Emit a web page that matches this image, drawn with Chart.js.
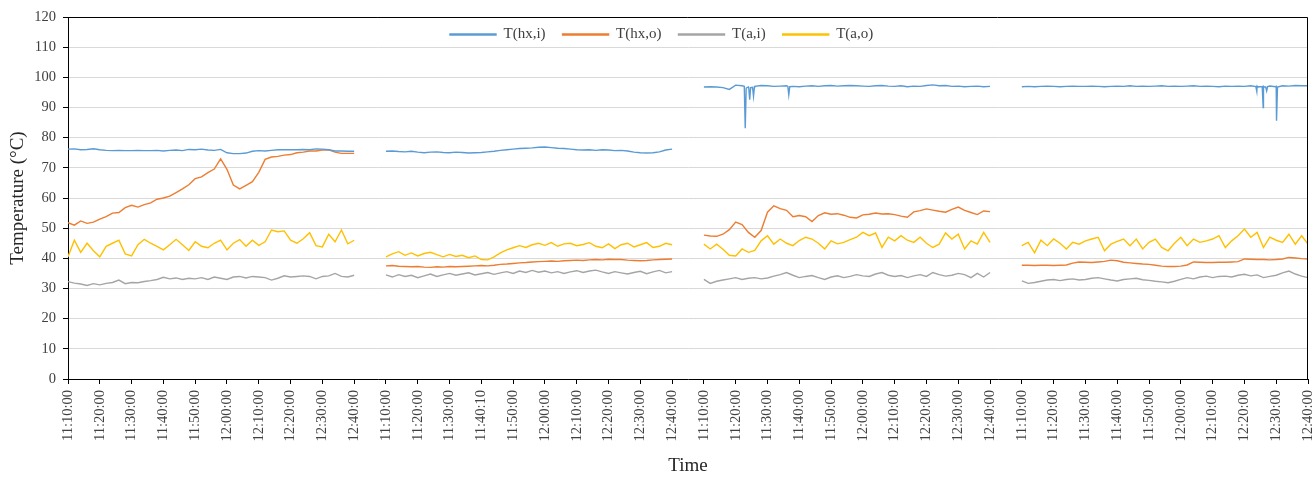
<!DOCTYPE html>
<html>
<head>
<meta charset="utf-8">
<title>Heat exchanger temperatures</title>
<script src="https://cdn.jsdelivr.net/npm/chart.js@4.4.1/dist/chart.umd.min.js"></script>
<style>
  html, body { margin: 0; padding: 0; background: #ffffff; }
  #wrap { width: 1315px; height: 477px; position: relative; }
</style>
</head>
<body>
<div id="wrap"><canvas id="chart"></canvas></div>
<script>
// Time-axis labels: four test runs, one label every 10 minutes
const tickLabels = [
  '11:10:00','11:20:00','11:30:00','11:40:00','11:50:00','12:00:00','12:10:00','12:20:00','12:30:00','12:40:00',
  '11:10:00','11:20:00','11:30:00','11:40:10','11:50:00','12:00:00','12:10:00','12:20:00','12:30:00','12:40:00',
  '11:10:00','11:20:00','11:30:00','11:40:00','11:50:00','12:00:00','12:10:00','12:20:00','12:30:00','12:40:00',
  '11:10:00','11:20:00','11:30:00','11:40:00','11:50:00','12:00:00','12:10:00','12:20:00','12:30:00','12:40:00'
];

// Sample times within a run, minutes after 11:10
const sampleMinutes = [0,2,4,6,8,10,12,14,16,18,20,22,24,26,28,30,32,34,36,38,40,42,44,46,48,50,52,54,56,58,60,62,64,66,68,70,72,74,76,78,80,82,84,86,88,90];
// Axis offset of each run (runs are separated by one 10-minute slot)
const runStart = [0, 100, 200, 300];

// T(hx,i) – heat exchanger inlet, °C
const hxIn1 = [76.2,76.3,76.0,76.1,76.3,76.0,75.8,75.7,75.8,75.7,75.7,75.8,75.7,75.7,75.8,75.6,75.8,75.9,75.7,76.1,76.0,76.2,75.9,75.8,76.1,75.0,74.7,74.7,74.9,75.5,75.7,75.6,75.8,76.0,76.0,76.0,76.0,76.1,76.0,76.3,76.2,76.0,75.6,75.6,75.5,75.5];
const hxIn2 = [75.5,75.6,75.4,75.3,75.5,75.2,75.0,75.2,75.3,75.1,75.0,75.2,75.1,74.9,75.0,75.1,75.3,75.5,75.8,76.0,76.2,76.4,76.5,76.6,76.8,76.9,76.7,76.5,76.4,76.2,76.0,75.9,76.0,75.8,76.0,75.9,75.7,75.8,75.6,75.2,75.0,74.9,75.0,75.3,75.9,76.2];
const hxIn3 = [96.8,96.9,96.8,96.6,96.0,97.4,97.2,96.8,97.0,97.3,97.2,97.0,97.1,97.2,97.0,96.9,97.1,97.2,97.0,97.2,97.3,97.1,97.2,97.3,97.2,97.1,97.0,97.2,97.3,97.1,97.0,97.2,96.9,97.1,97.0,97.3,97.5,97.2,97.3,97.0,97.1,96.9,97.0,97.1,96.9,97.0];
const hxIn4 = [96.9,97.0,96.9,97.0,97.1,97.0,96.9,97.0,97.1,97.0,97.0,97.1,97.0,96.9,97.0,97.1,97.0,97.2,97.0,97.1,97.0,97.1,97.2,97.0,97.1,97.0,97.1,97.2,97.0,97.1,97.0,96.9,97.1,97.0,97.1,97.0,97.2,97.1,97.0,97.1,97.0,97.2,97.1,97.3,97.2,97.2];
// short inlet drops [minute, °C]
const hxInDrops3 = [[12.7,97.0],[13.0,83.1],[13.3,96.4],[14.1,96.6],[14.4,92.6],[14.7,96.6],[15.3,96.7],[15.6,93.7],[15.9,96.8],[26.4,97.0],[26.7,94.2],[27.0,96.9]];
const hxInDrops4 = [[73.6,96.9],[73.9,95.3],[74.2,96.9],[75.6,96.9],[75.9,90.0],[76.2,96.8],[76.7,96.8],[77.0,95.5],[77.3,96.9],[79.8,96.9],[80.1,85.6],[80.4,96.8]];

// T(hx,o) – heat exchanger outlet, °C
const hxOut1 = [51.8,51.0,52.4,51.6,52.0,53.0,53.8,55.0,55.2,56.8,57.6,57.0,57.8,58.4,59.6,60.0,60.6,61.8,63.0,64.4,66.4,67.0,68.4,69.6,73.0,69.5,64.3,63.0,64.2,65.4,68.5,72.8,73.6,73.8,74.2,74.4,75.0,75.2,75.6,75.6,75.9,76.0,75.2,74.8,74.8,74.8];
const hxOut2 = [37.5,37.6,37.4,37.3,37.2,37.3,37.1,37.0,37.2,37.1,37.3,37.2,37.3,37.4,37.5,37.6,37.5,37.7,38.0,38.1,38.3,38.5,38.6,38.8,38.9,39.0,39.1,39.0,39.2,39.3,39.4,39.3,39.5,39.6,39.5,39.7,39.6,39.6,39.4,39.3,39.2,39.3,39.5,39.6,39.7,39.8];
const hxOut3 = [47.7,47.4,47.3,48.0,49.5,52.0,51.2,48.6,47.0,49.2,55.3,57.4,56.5,55.9,53.8,54.2,53.8,52.2,54.2,55.1,54.6,54.8,54.3,53.6,53.4,54.4,54.6,55.0,54.7,54.8,54.5,54.0,53.6,55.4,55.8,56.4,56.0,55.6,55.3,56.2,57.0,55.9,55.2,54.5,55.7,55.5];
const hxOut4 = [37.7,37.7,37.6,37.7,37.7,37.6,37.7,37.8,38.4,38.8,38.7,38.6,38.8,39.0,39.4,39.2,38.7,38.5,38.3,38.1,38.0,37.7,37.4,37.3,37.3,37.4,37.8,38.8,38.7,38.6,38.6,38.7,38.7,38.8,38.9,39.8,39.7,39.6,39.6,39.5,39.6,39.8,40.3,40.1,39.9,39.8];

// T(a,i) – air inlet, °C
const airIn1 = [32.3,31.8,31.5,31.0,31.6,31.2,31.7,32.0,32.8,31.6,32.0,31.9,32.3,32.6,33.0,33.7,33.2,33.5,33.0,33.4,33.2,33.6,33.0,33.8,33.4,33.0,33.8,34.0,33.5,34.0,33.8,33.6,32.8,33.4,34.2,33.8,34.0,34.2,34.0,33.2,34.0,34.2,35.0,34.0,33.8,34.4];
const airIn2 = [34.5,33.8,34.6,34.0,34.4,33.6,34.2,34.8,34.0,34.5,35.0,34.4,34.8,35.2,34.5,34.9,35.3,34.7,35.2,35.6,35.0,35.8,35.3,36.0,35.4,35.8,35.2,35.6,35.0,35.5,35.9,35.3,35.8,36.1,35.5,35.0,35.6,35.2,34.8,35.3,35.7,34.9,35.5,36.0,35.2,35.6];
const airIn3 = [33.0,31.7,32.4,32.8,33.2,33.6,33.0,33.4,33.6,33.2,33.5,34.1,34.6,35.3,34.4,33.6,34.0,34.3,33.6,33.0,33.8,34.2,33.6,34.0,34.6,34.2,34.0,34.8,35.3,34.4,34.0,34.3,33.6,34.2,34.6,34.0,35.3,34.6,34.1,34.4,35.0,34.6,33.6,35.0,33.8,35.3];
const airIn4 = [32.5,31.7,32.0,32.4,32.8,33.0,32.6,33.0,33.2,32.8,33.0,33.4,33.6,33.2,32.8,32.5,33.0,33.2,33.4,32.9,32.7,32.4,32.2,31.9,32.4,33.0,33.6,33.2,33.8,34.1,33.6,34.0,34.1,33.8,34.4,34.7,34.2,34.5,33.6,34.0,34.4,35.2,35.8,34.8,34.1,33.6];

// T(a,o) – air outlet, °C
const airOut1 = [40.5,46.0,42.0,45.0,42.5,40.5,44.0,45.0,46.0,41.5,40.8,44.5,46.3,45.0,44.0,42.8,44.5,46.3,44.5,42.6,45.5,44.0,43.5,45.0,46.0,42.8,45.0,46.2,44.0,46.0,44.3,45.5,49.4,48.8,49.1,46.0,45.0,46.5,48.5,44.2,43.8,48.0,45.5,49.4,44.8,46.0];
const airOut2 = [40.5,41.5,42.2,41.0,41.8,40.8,41.6,42.0,41.2,40.5,41.3,40.6,41.0,40.2,40.8,39.6,39.5,40.5,41.8,42.8,43.5,44.2,43.6,44.5,45.0,44.3,45.2,44.0,44.8,45.0,44.2,44.6,45.2,44.0,43.5,44.8,43.2,44.5,45.0,43.8,44.5,45.2,43.6,44.0,45.0,44.5];
const airOut3 = [44.7,43.1,44.7,43.0,41.0,40.8,43.1,42.0,42.6,45.8,47.5,44.7,46.4,45.0,44.2,45.9,47.0,46.4,45.0,43.1,45.8,44.8,45.3,46.2,47.0,48.6,47.5,48.4,43.6,47.0,45.8,47.5,46.0,45.3,47.0,45.0,43.6,44.7,48.4,46.4,48.0,43.1,45.8,44.7,48.6,45.3];
const airOut4 = [44.2,45.3,41.8,46.0,44.2,46.4,45.0,43.1,45.3,44.7,45.8,46.4,47.0,42.5,44.7,45.6,46.4,44.2,46.4,43.1,45.3,46.4,43.6,42.5,45.0,47.0,44.2,46.4,45.3,45.8,46.4,47.5,43.6,45.8,47.5,49.7,47.0,48.6,43.6,47.0,46.0,45.3,48.0,44.7,47.5,44.7];

const yTicks = [0,10,20,30,40,50,60,70,80,90,100,110,120];

// Join the runs into one series, with a break between runs
function buildSeries(runs, extras) {
  const pts = [];
  runs.forEach((vals, r) => {
    const seg = sampleMinutes.map((m, i) => ({ x: runStart[r] + m, y: vals[i] }));
    (extras[r] || []).forEach(([m, v]) => seg.push({ x: runStart[r] + m, y: v }));
    seg.sort((a, b) => a.x - b.x);
    pts.push(...seg);
    if (r < runs.length - 1) pts.push({ x: runStart[r] + 95, y: null });
  });
  return pts;
}

const serif = 'Liberation Serif, Times New Roman, serif';

// Legend sits inside the plot, just under the top frame line
const legendInPlot = {
  id: 'legendInPlot',
  afterLayout(chart) {
    const lg = chart.legend;
    if (!lg) return;
    lg.left = 433; lg.right = chart.chartArea.right; lg.width = lg.right - lg.left;
    lg.top = 10; lg.height = 45; lg.bottom = lg.top + lg.height;
  }
};

// Black frame line on the top and right of the plot area
const plotFrame = {
  id: 'plotFrame',
  afterDatasetsDraw(chart) {
    const { ctx, chartArea: a } = chart;
    ctx.save();
    ctx.strokeStyle = '#000000';
    ctx.lineWidth = 1;
    ctx.beginPath();
    const t = Math.round(a.top) + 0.5, r = Math.round(a.right) - 0.5;
    ctx.moveTo(a.left, t); ctx.lineTo(r, t); ctx.lineTo(r, a.bottom);
    ctx.stroke();
    ctx.restore();
  }
};

const lineStyle = (label, color, data) => ({
  label, data,
  borderColor: color, backgroundColor: color,
  borderWidth: 1.4, pointRadius: 0, tension: 0, spanGaps: false
});

new Chart(document.getElementById('chart'), {
  type: 'line',
  data: {
    datasets: [
      lineStyle('T(hx,i)', '#5B9BD5', buildSeries([hxIn1, hxIn2, hxIn3, hxIn4], [[], [], hxInDrops3, hxInDrops4])),
      lineStyle('T(hx,o)', '#ED7D31', buildSeries([hxOut1, hxOut2, hxOut3, hxOut4], [])),
      lineStyle('T(a,i)', '#A5A5A5', buildSeries([airIn1, airIn2, airIn3, airIn4], [])),
      lineStyle('T(a,o)', '#FFC000', buildSeries([airOut1, airOut2, airOut3, airOut4], []))
    ]
  },
  options: {
    responsive: true,
    maintainAspectRatio: false,
    animation: false,
    devicePixelRatio: 1,
    layout: { padding: { left: 0, right: 7, top: 16, bottom: 0 } },
    plugins: {
      tooltip: { enabled: false },
      legend: {
        display: true,
        position: 'top',
        align: 'start',
        maxHeight: 1,
        labels: {
          boxWidth: 46, boxHeight: 1, padding: 17,
          color: '#404040',
          font: { family: serif, size: 15 }
        }
      }
    },
    scales: {
      x: {
        type: 'linear',
        min: 0, max: 390,
        border: { display: true, color: '#000000', width: 1 },
        grid: { display: true, drawOnChartArea: false, drawTicks: true, tickLength: 5, color: '#000000', tickColor: '#000000' },
        ticks: {
          stepSize: 10, autoSkip: false, minRotation: 90, maxRotation: 90, padding: 6,
          color: '#404040', font: { family: serif, size: 14.5 },
          callback: (v) => tickLabels[Math.round(v / 10)]
        },
        title: { display: true, text: 'Time', color: '#262626', font: { family: serif, size: 19 }, padding: { top: 0, bottom: 0 } },
        afterFit(scale) { scale.height = 98; scale.paddingLeft = 0; scale.paddingRight = 0; }
      },
      y: {
        min: 0, max: 120,
        afterBuildTicks(scale) { scale.ticks = yTicks.map(v => ({ value: v })); },
        border: { display: true, color: '#000000', width: 1 },
        grid: { color: '#d9d9d9', lineWidth: 1, tickLength: 5, tickColor: '#000000' },
        ticks: { padding: 7, color: '#404040', font: { family: serif, size: 14.5 } },
        title: { display: true, text: 'Temperature (°C)', color: '#262626', font: { family: serif, size: 19 }, padding: { top: 7, bottom: 0 } },
        afterFit(scale) { scale.width = 68; }
      }
    }
  },
  plugins: [legendInPlot, plotFrame]
});
</script>
</body>
</html>
